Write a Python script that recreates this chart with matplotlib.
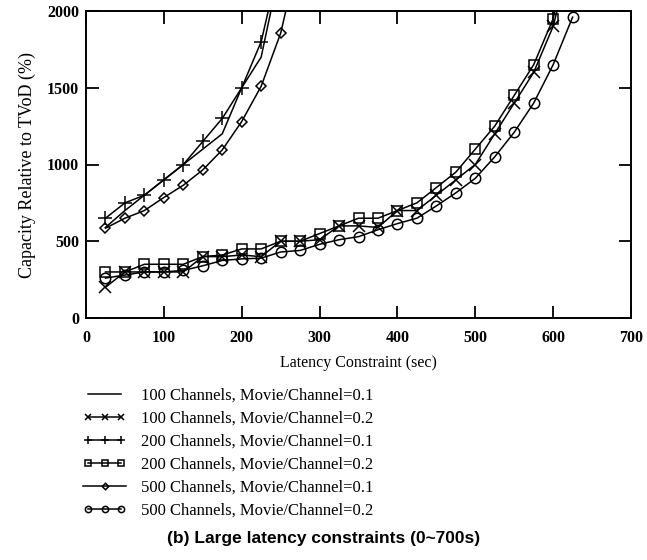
import matplotlib
matplotlib.use("Agg")
import matplotlib.pyplot as plt
from matplotlib.legend_handler import HandlerLine2D

plt.rcParams["font.family"] = ["Liberation Serif", "DejaVu Serif"]

# latency constraint (sec)
x_upper = [25, 50, 75, 100, 125, 150, 175, 200, 225, 250]
x_diam = [25, 50, 75, 100, 125, 150, 175, 200, 225, 250, 275]
x_lower = [25, 50, 75, 100, 125, 150, 175, 200, 225, 250, 275, 300, 325,
           350, 375, 400, 425, 450, 475, 500, 525, 550, 575, 600, 625]

# capacity relative to TVoD (%)
ch100_mc01 = [590, 700, 800, 900, 1000, 1100, 1200, 1500, 1700, 2300]
ch100_mc02 = [200, 300, 300, 300, 300, 400, 400, 410, 400, 500, 500, 510, 600,
              600, 590, 700, 700, 800, 900, 1000, 1200, 1400, 1600, 1900, 2400]
ch200_mc01 = [650, 750, 800, 900, 1000, 1150, 1300, 1500, 1800, 2350]
ch200_mc02 = [300, 300, 350, 350, 350, 400, 410, 450, 450, 500, 500, 550, 600,
              650, 650, 700, 750, 850, 950, 1100, 1250, 1450, 1650, 1950, 2500]
ch500_mc01 = [585, 650, 700, 785, 865, 965, 1095, 1280, 1510, 1855, 2400]
ch500_mc02 = [260, 280, 300, 300, 310, 340, 375, 385, 390, 430, 440, 480, 510,
              530, 575, 615, 650, 730, 815, 910, 1050, 1210, 1400, 1650, 1960]

labels = [
    "100 Channels, Movie/Channel=0.1",
    "100 Channels, Movie/Channel=0.2",
    "200 Channels, Movie/Channel=0.1",
    "200 Channels, Movie/Channel=0.2",
    "500 Channels, Movie/Channel=0.1",
    "500 Channels, Movie/Channel=0.2",
]

fig = plt.figure(figsize=(6.47, 5.60), dpi=100)
ax = fig.add_axes([86 / 647, 1 - 318 / 560, 545 / 647, 307 / 560])

kw = dict(color="black", lw=1.1, mfc="none", mew=1.1)
h1, = ax.plot(x_upper, ch100_mc01, **kw)
h2, = ax.plot(x_lower, ch100_mc02, marker="x", ms=8, **kw)
h3, = ax.plot(x_upper, ch200_mc01, marker="+", ms=10, **kw)
h4, = ax.plot(x_lower, ch200_mc02, marker="s", ms=7, **kw)
h5, = ax.plot(x_diam, ch500_mc01, marker="D", ms=5.5, **kw)
h6, = ax.plot(x_lower, ch500_mc02, marker="o", ms=7.5, **kw)

ax.set_xlim(0, 700)
ax.set_ylim(0, 2000)
ax.set_xticks(range(0, 701, 100))
ax.set_yticks(range(0, 2001, 500))
ax.tick_params(direction="in", length=9, width=1.3, top=True, right=True,
               labelsize=11.5)
ax.tick_params(axis="x", pad=9)
ax.tick_params(axis="y", pad=5)
for lab in ax.get_xticklabels() + ax.get_yticklabels():
    lab.set_fontweight("bold")
for s in ax.spines.values():
    s.set_linewidth(1.4)

ax.set_xlabel("Latency Constraint (sec)", fontsize=11.5, labelpad=6)
ax.set_ylabel("Capacity Relative to TVoD (%)", fontsize=13, labelpad=8)

handles = [h1, h2, h3, h4, h5, h6]
leg = fig.legend(handles, labels, loc="upper left",
                 bbox_to_anchor=(68 / 647, 1 - 373 / 560),
                 frameon=False, numpoints=3, markerscale=0.6,
                 handlelength=2.6, handletextpad=0.9, labelspacing=0.42,
                 fontsize=12,
                 handler_map={h5: HandlerLine2D(numpoints=1)})

fig.text(0.5, 1 - 538 / 560, "(b) Large latency constraints (0~700s)",
         ha="center", va="center", fontsize=12.5, fontweight="bold",
         family="Liberation Sans")

fig.savefig("out.png", dpi=100)
